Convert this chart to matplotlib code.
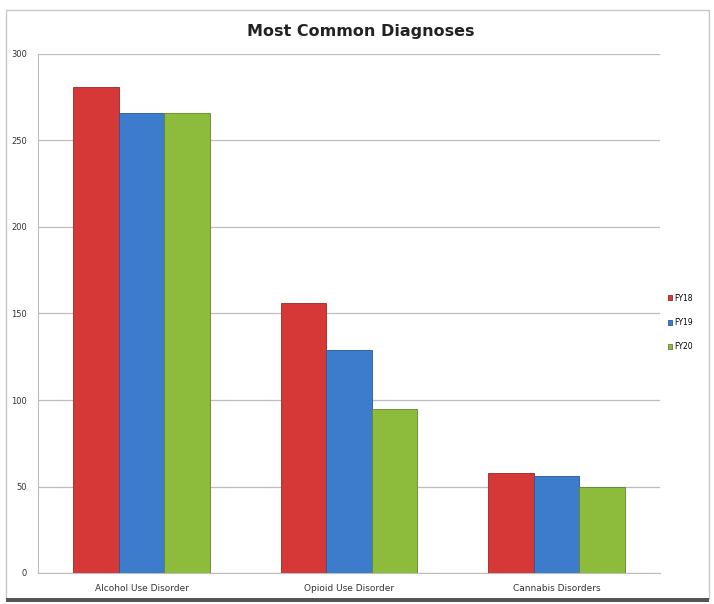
import numpy as np
import matplotlib.pyplot as plt
from matplotlib.patches import Rectangle

categories = ["Alcohol Use Disorder", "Opioid Use Disorder", "Cannabis Disorders"]
series_names = ["FY18", "FY19", "FY20"]
fy18 = [281, 156, 58]
fy19 = [266, 129, 56]
fy20 = [266, 95, 50]
y_ticks = [0, 50, 100, 150, 200, 250, 300]

colors = ["#d63838", "#3d7bcc", "#8dbb3c"]
edges = ["#9e2424", "#28579a", "#62862a"]

fig = plt.figure(figsize=(7.14, 6.04), dpi=100)
fig.patch.set_facecolor("white")

# outer frame of the pasted chart
fig.patches.append(Rectangle((0.008, 0.008), 0.985, 0.975, transform=fig.transFigure,
                             fill=False, edgecolor="#c8c8c8", linewidth=1.0))
fig.patches.append(Rectangle((0.008, 0.004), 0.985, 0.006, transform=fig.transFigure,
                             facecolor="#555555", edgecolor="none"))

ax = fig.add_axes([38 / 714, 1 - 573 / 604, 622 / 714, 519 / 604])

x = np.arange(len(categories))
width = 0.22
for i, (vals, name) in enumerate(zip([fy18, fy19, fy20], series_names)):
    ax.bar(x + (i - 1) * width, vals, width, color=colors[i], edgecolor=edges[i],
           linewidth=0.6, label=name, zorder=3)

ax.set_xlim(-0.5, 2.5)
ax.set_ylim(0, 300)
ax.set_yticks(y_ticks)
ax.set_yticklabels([str(t) for t in y_ticks], fontsize=6, color="#333333")
ax.set_xticks(x)
ax.set_xticklabels(categories, fontsize=6.5, color="#333333")
ax.tick_params(axis="both", length=0, pad=8)
ax.grid(True, axis="y", color="#bdbdbd", linewidth=0.9, zorder=0)
for side in ["top", "right"]:
    ax.spines[side].set_visible(False)
ax.spines["left"].set_color("#bdbdbd")
ax.spines["bottom"].set_color("#bdbdbd")

fig.text(0.505, 0.948, "Most Common Diagnoses", ha="center", va="center",
         fontsize=11.5, fontweight="bold", color="#222222")

ax.legend(loc="center left", bbox_to_anchor=(1.0, 0.483), frameon=False, fontsize=5.5,
          handlelength=0.6, handleheight=0.6, handletextpad=0.3, labelspacing=2.0,
          borderaxespad=0.6)

fig.savefig("out.png", dpi=100)
